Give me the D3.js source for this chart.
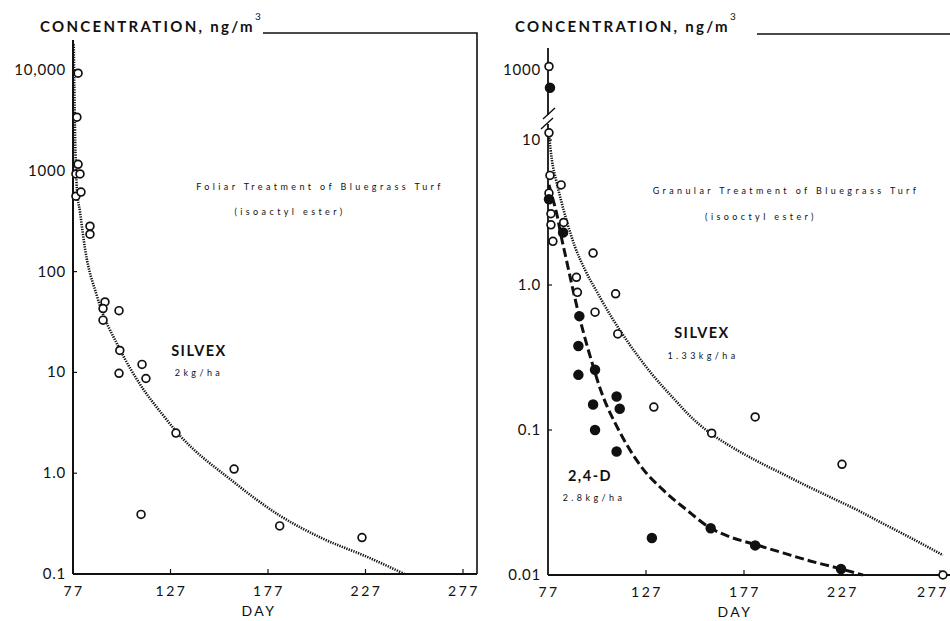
<!DOCTYPE html>
<html>
<head>
<meta charset="utf-8">
<script src="https://cdn.jsdelivr.net/npm/d3@7"></script>
<style>
  html, body { margin: 0; padding: 0; background: #fff; }
  svg { display: block; }
  text { font-family: Lato, "Liberation Sans", sans-serif; fill: #111; }
  .tick-label { font-size: 15px; letter-spacing: 0.8px; }
  .x-label { font-size: 14px; letter-spacing: 2.5px; }
  .title { font-size: 15px; font-weight: bold; letter-spacing: 2.3px; }
  .note { font-size: 9px; letter-spacing: 3.4px; }
  .name { font-size: 14.5px; font-weight: bold; letter-spacing: 1.5px; }
</style>
</head>
<body>
<svg id="chart" width="950" height="621"></svg>
<script>
// ---- data ----
var dayTicks = [77, 127, 177, 227, 277];

var leftYTicks = [0.1, 1, 10, 100, 1000, 10000];
var leftYLabels = ['0.1', '1.0', '10', '100', '1000', '10,000'];

var rightLowTicks = [0.01, 0.1, 1, 10];
var rightLowLabels = ['0.01', '0.1', '1.0', '10'];
var rightHighTicks = [1000];
var rightHighLabels = ['1000'];

// foliar treatment, silvex (open circles)
var foliarSilvex = [
  [79.6, 9300], [79, 3400], [79.6, 1160], [78.5, 930], [80.6, 930],
  [78.5, 560], [81.1, 615], [85.7, 282], [85.7, 235], [93.4, 50],
  [92.4, 43], [92.4, 33], [100.6, 41], [101, 16.5], [100.6, 9.8],
  [112.4, 12], [114.4, 8.7], [129.8, 2.5], [159.6, 1.1], [111.9, 0.39],
  [183, 0.30], [225.2, 0.23]
];
var foliarFit = [
  [77.4, 18000], [78, 2600], [79, 660], [80.6, 390], [83.2, 167],
  [89.3, 57], [101, 17], [111.4, 7.6], [123, 3.8], [130.3, 2.55],
  [159, 0.83], [183, 0.38], [205, 0.225], [227.8, 0.148], [247, 0.1]
];

// granular treatment, silvex (open) and 2,4-D (filled)
var granularSilvex = [
  [77.5, 1100], [77.5, 11.2], [78, 5.7], [77.5, 4.3], [78.5, 3.1],
  [78.5, 2.6], [79.5, 2.0], [83.7, 4.9], [85, 2.7], [100, 1.66],
  [91.5, 1.13], [92, 0.89], [111.5, 0.87], [101, 0.65], [112.6, 0.46],
  [131, 0.144], [182.7, 0.123], [160.5, 0.095], [227, 0.058], [278.5, 0.01]
];
var granular24D = [
  [78, 620], [77.5, 3.9], [84.7, 2.3], [93, 0.61], [92.5, 0.38],
  [92.5, 0.24], [101, 0.26], [112, 0.17], [100, 0.15], [113.6, 0.14],
  [101, 0.10], [112, 0.071], [130, 0.018], [160, 0.021], [182.7, 0.016],
  [226.5, 0.011]
];
var silvexFit = [
  [77.5, 10.8], [79, 7.28], [81.1, 5.3], [83.6, 3.86], [86.7, 2.72],
  [90.8, 1.83], [95.9, 1.27], [102, 0.895], [109.7, 0.592], [118.8, 0.386],
  [129.6, 0.247], [141.8, 0.161], [149.4, 0.125], [159.7, 0.0953],
  [169.9, 0.0776], [183.6, 0.0611], [196.9, 0.0497], [209.1, 0.0411],
  [220.9, 0.0345], [234.7, 0.0281], [246.4, 0.0232], [263.2, 0.0177],
  [278.5, 0.0137]
];
var d24Fit = [
  [77.5, 4.9], [79.6, 3.86], [81.6, 3.04], [83.6, 2.21], [86.2, 1.53],
  [89.2, 1.0], [92.8, 0.62], [96.4, 0.405], [100, 0.276], [103.5, 0.195],
  [107.1, 0.146], [111.2, 0.112], [117.3, 0.0788], [125.5, 0.0538],
  [135.7, 0.0386], [147.9, 0.028], [159.1, 0.0214], [169.9, 0.0183],
  [181.6, 0.0164], [196.9, 0.0142], [210.7, 0.0125], [224.4, 0.0112],
  [237.7, 0.01]
];

var svg = d3.select('#chart');

function drawCircles(g, data, x, yOf, filled) {
  g.selectAll(null)
    .data(data)
    .enter().append('circle')
    .attr('cx', function (d) { return x(d[0]); })
    .attr('cy', function (d) { return yOf(d[1]); })
    .attr('r', filled ? 4.4 : 3.9)
    .attr('fill', filled ? '#111' : '#fff')
    .attr('stroke', '#111')
    .attr('stroke-width', 1.7);
}

function drawFit(g, data, x, y, dash, width) {
  var line = d3.line()
    .x(function (d) { return x(d[0]); })
    .y(function (d) { return y(d[1]); })
    .curve(d3.curveMonotoneX);
  g.append('path')
    .datum(data)
    .attr('d', line)
    .attr('fill', 'none')
    .attr('stroke', '#111')
    .attr('stroke-width', width)
    .attr('stroke-dasharray', dash);
}

function drawXAxis(g, x, y0) {
  g.append('line')
    .attr('x1', x(77)).attr('x2', x(277) + 14)
    .attr('y1', y0).attr('y2', y0)
    .attr('stroke', '#111').attr('stroke-width', 2);
  g.selectAll(null)
    .data(dayTicks.slice(1))
    .enter().append('line')
    .attr('x1', function (d) { return x(d); })
    .attr('x2', function (d) { return x(d); })
    .attr('y1', y0).attr('y2', y0 - 5)
    .attr('stroke', '#111').attr('stroke-width', 1.2);
  g.selectAll(null)
    .data(dayTicks)
    .enter().append('text')
    .attr('class', 'x-label')
    .attr('x', function (d) { return Math.min(x(d) + 1, 933); })
    .attr('y', y0 + 22)
    .attr('text-anchor', 'middle')
    .text(function (d) { return d; });
  g.append('text')
    .attr('class', 'x-label')
    .attr('x', x(177) - 9)
    .attr('y', y0 + 42)
    .attr('text-anchor', 'middle')
    .text('DAY');
}

function drawYTicks(g, x0, y, ticks, labels) {
  g.selectAll(null)
    .data(ticks)
    .enter().append('line')
    .attr('x1', x0).attr('x2', x0 + 4)
    .attr('y1', function (d) { return y(d); })
    .attr('y2', function (d) { return y(d); })
    .attr('stroke', '#111').attr('stroke-width', 1.2);
  g.selectAll(null)
    .data(ticks)
    .enter().append('text')
    .attr('class', 'tick-label')
    .attr('x', x0 - 7)
    .attr('y', function (d) { return y(d) + 5; })
    .attr('text-anchor', 'end')
    .text(function (d, i) { return labels[i]; });
}

function drawTitle(g, x0, y0) {
  var t = g.append('text').attr('class', 'title').attr('x', x0).attr('y', y0);
  t.append('tspan').text('CONCENTRATION,  ng/m');
  t.append('tspan').attr('dy', -12).attr('font-size', '10px').attr('font-weight', 'normal').text('3');
}

// ---- left panel: foliar ----
(function () {
  var g = svg.append('g');
  var x = d3.scaleLinear().domain([77, 277]).range([73, 463]);
  var y = d3.scaleLog().domain([0.1, 10000]).range([574, 70]);

  drawTitle(g, 40, 32);
  g.append('path')
    .attr('d', 'M263,33 H477 V574')
    .attr('fill', 'none').attr('stroke', '#111').attr('stroke-width', 1.6);
  g.append('line')
    .attr('x1', 73).attr('x2', 73).attr('y1', 40).attr('y2', 574)
    .attr('stroke', '#111').attr('stroke-width', 2);

  drawYTicks(g, 73, y, leftYTicks, leftYLabels);
  drawXAxis(g, x, 574);

  drawFit(g, foliarFit, x, y, '1.3,1.2', 2.6);
  drawCircles(g, foliarSilvex, x, y, false);

  g.append('text').attr('class', 'note').attr('x', 320).attr('y', 190)
    .attr('text-anchor', 'middle').text('Foliar Treatment of Bluegrass Turf');
  g.append('text').attr('class', 'note').attr('x', 290).attr('y', 215)
    .attr('text-anchor', 'middle').text('(isoactyl ester)');
  g.append('text').attr('class', 'name').attr('x', 199).attr('y', 356)
    .attr('text-anchor', 'middle').text('SILVEX');
  g.append('text').attr('class', 'note').attr('x', 199).attr('y', 376)
    .attr('text-anchor', 'middle').text('2kg/ha');
})();

// ---- right panel: granular ----
(function () {
  var g = svg.append('g');
  var x = d3.scaleLinear().domain([77, 277]).range([548, 940]);
  var yLow = d3.scaleLog().domain([0.01, 10]).range([575, 140]);
  var yHigh = d3.scaleLog().domain([200, 1000]).range([130, 70]);
  var yOf = function (v) { return v > 100 ? yHigh(v) : yLow(v); };

  drawTitle(g, 515, 32);
  g.append('line')
    .attr('x1', 757).attr('x2', 950).attr('y1', 34).attr('y2', 34)
    .attr('stroke', '#111').attr('stroke-width', 1.4);

  // broken y axis
  g.append('line')
    .attr('x1', 548).attr('x2', 548).attr('y1', 48).attr('y2', 115)
    .attr('stroke', '#111').attr('stroke-width', 1.8);
  g.append('line')
    .attr('x1', 548).attr('x2', 548).attr('y1', 124).attr('y2', 575)
    .attr('stroke', '#111').attr('stroke-width', 1.8);
  g.append('line')
    .attr('x1', 543).attr('y1', 119).attr('x2', 555).attr('y2', 108)
    .attr('stroke', '#111').attr('stroke-width', 1.4);
  g.append('line')
    .attr('x1', 541).attr('y1', 129).attr('x2', 553).attr('y2', 118)
    .attr('stroke', '#111').attr('stroke-width', 1.4);

  drawYTicks(g, 548, yLow, rightLowTicks, rightLowLabels);
  drawYTicks(g, 548, yHigh, rightHighTicks, rightHighLabels);
  drawXAxis(g, x, 575);

  drawFit(g, silvexFit, x, yLow, '1.3,1.2', 2.6);
  drawFit(g, d24Fit, x, yLow, '9,4', 3);
  drawCircles(g, granularSilvex, x, yOf, false);
  drawCircles(g, granular24D, x, yOf, true);

  g.append('text').attr('class', 'note').attr('x', 786).attr('y', 194)
    .attr('text-anchor', 'middle').text('Granular Treatment of Bluegrass Turf');
  g.append('text').attr('class', 'note').attr('x', 761).attr('y', 220)
    .attr('text-anchor', 'middle').text('(isooctyl ester)');
  g.append('text').attr('class', 'name').attr('x', 702).attr('y', 338)
    .attr('text-anchor', 'middle').text('SILVEX');
  g.append('text').attr('class', 'note').attr('x', 703).attr('y', 359)
    .attr('text-anchor', 'middle').text('1.33kg/ha');
  g.append('text').attr('class', 'name').attr('x', 590).attr('y', 481)
    .attr('text-anchor', 'middle').text('2,4-D');
  g.append('text').attr('class', 'note').attr('x', 594).attr('y', 501)
    .attr('text-anchor', 'middle').text('2.8kg/ha');
})();
</script>
</body>
</html>
